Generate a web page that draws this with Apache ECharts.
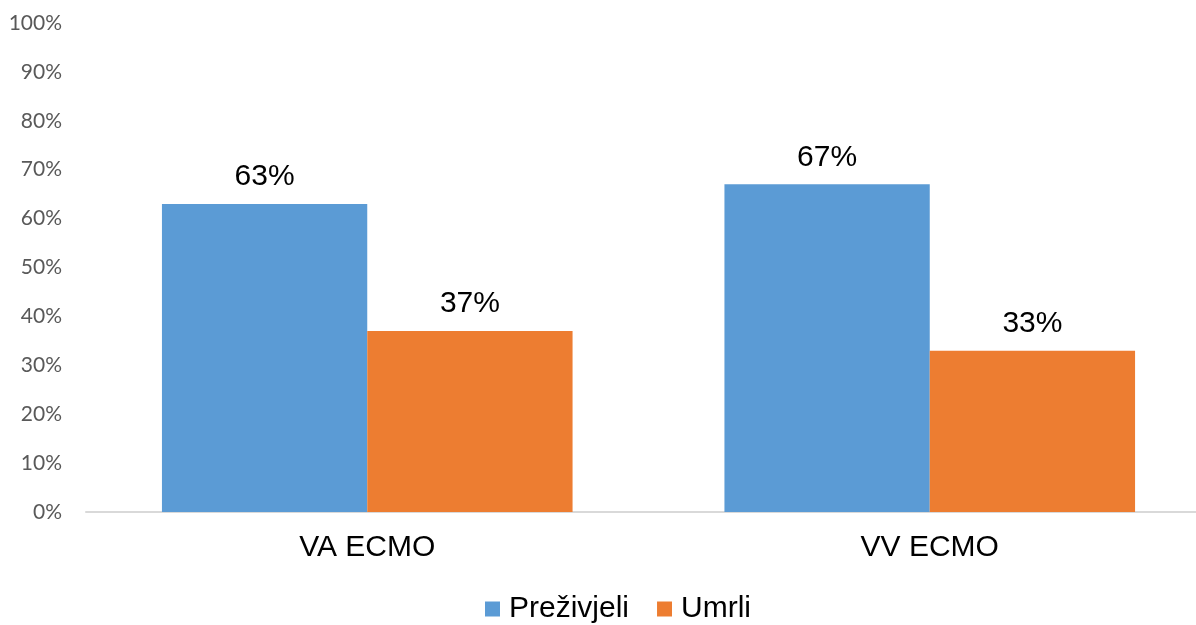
<!DOCTYPE html>
<html>
<head>
<meta charset="utf-8">
<script src="https://cdn.jsdelivr.net/npm/echarts@6/dist/echarts.min.js"></script>
<style>
html,body{margin:0;padding:0;background:#fff;overflow:hidden;width:1196px;height:625px;}
#chart{width:1211px;height:625px;}
</style>
</head>
<body>
<div id="chart"></div>
<script>
const categories = ['VA ECMO', 'VV ECMO'];
const seriesNames = ['Preživjeli', 'Umrli'];
const survived = [63, 67];
const died = [37, 33];
const yTicks = [0, 10, 20, 30, 40, 50, 60, 70, 80, 90, 100];

const chart = echarts.init(document.getElementById('chart'), null, {renderer: 'canvas'});
const labelStyle = {
  show: true,
  position: 'top',
  distance: 12,
  formatter: '{c}%',
  fontFamily: '"Liberation Sans", Arial, sans-serif',
  fontSize: 30,
  color: '#000'
};
chart.setOption({
  animation: false,
  backgroundColor: '#fff',
  grid: {left: 86, top: 23, right: 0, bottom: 113, containLabel: false},
  legend: {
    left: 485,
    top: 594,
    padding: 0,
    itemWidth: 15,
    itemHeight: 15,
    itemGap: 28,
    icon: 'rect',
    textStyle: {
      fontFamily: '"Liberation Sans", Arial, sans-serif',
      fontSize: 30,
      color: '#000',
      padding: [0, 0, 0, 4]
    },
    data: seriesNames
  },
  xAxis: {
    type: 'category',
    data: categories,
    axisLine: {show: true, lineStyle: {color: '#d9d9d9', width: 2}},
    axisTick: {show: false},
    axisLabel: {
      margin: 21,
      fontFamily: '"Liberation Sans", Arial, sans-serif',
      fontSize: 30,
      color: '#000'
    }
  },
  yAxis: {
    type: 'value',
    min: yTicks[0],
    max: yTicks[yTicks.length - 1],
    interval: yTicks[1] - yTicks[0],
    axisLine: {show: false},
    axisTick: {show: false},
    splitLine: {show: false},
    axisLabel: {
      margin: 24,
      formatter: '{value}%',
      fontFamily: 'Lato, "Open Sans", sans-serif',
      fontSize: 21,
      color: '#595959'
    }
  },
  series: [
    {
      name: seriesNames[0],
      type: 'bar',
      data: survived,
      barGap: '0%',
      barCategoryGap: '27%',
      itemStyle: {color: '#5B9BD5'},
      label: labelStyle
    },
    {
      name: seriesNames[1],
      type: 'bar',
      data: died,
      itemStyle: {color: '#ED7D31'},
      label: labelStyle
    }
  ]
});
</script>
</body>
</html>
